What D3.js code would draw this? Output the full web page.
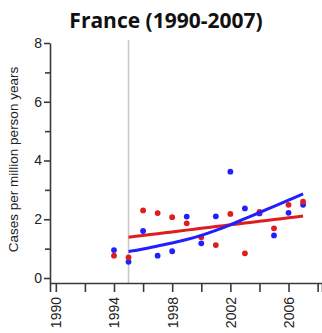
<!DOCTYPE html>
<html>
<head>
<meta charset="utf-8">
<script src="https://cdn.jsdelivr.net/npm/d3@7"></script>
<style>
  html, body { margin: 0; padding: 0; background: #fff; }
  svg { display: block; }
</style>
</head>
<body>
<div id="chart"></div>
<script>
// Observed annual rates (cases per million person years), France
const years = [1994, 1995, 1996, 1997, 1998, 1999, 2000, 2001, 2002, 2003, 2004, 2005, 2006, 2007];
const blueRates = [0.95, 0.55, 1.60, 0.76, 0.91, 2.09, 1.18, 2.10, 3.62, 2.37, 2.20, 1.45, 2.22, 2.49];
const redRates  = [0.76, 0.70, 2.30, 2.21, 2.07, 1.86, 1.39, 1.12, 2.18, 0.84, 2.25, 1.69, 2.49, 2.60];

// Fitted trends from 1995 onward
const trendYears = [1995, 1996, 1997, 1998, 1999, 2000, 2001, 2002, 2003, 2004, 2005, 2006, 2007];
const blueTrend = [0.90, 0.99, 1.09, 1.19, 1.31, 1.45, 1.62, 1.81, 2.02, 2.23, 2.44, 2.65, 2.86];
const redTrend  = [1.39, 1.45, 1.51, 1.57, 1.63, 1.69, 1.75, 1.81, 1.87, 1.93, 1.99, 2.05, 2.11];

// Axis ticks
const xTicks = [1990, 1992, 1994, 1996, 1998, 2000, 2002, 2004, 2006, 2008];
const xLabels = [1990, 1994, 1998, 2002, 2006];
const yTicks = [0, 1, 2, 3, 4, 5, 6, 7, 8];
const yLabels = [0, 2, 4, 6, 8];
const cutoffYear = 1995;

const W = 322, H = 333;
const BLUE = "#1f1fff", RED = "#de1d1d", AXIS = "#3a3a3a";

const svg = d3.select("#chart").append("svg").attr("width", W).attr("height", H);

const x = d3.scaleLinear().domain([1989.6, 2008.3]).range([50, 322]);
const y = d3.scaleLinear().domain([-0.17, 8]).range([283, 43]);

// Title
svg.append("text")
  .attr("x", 166).attr("y", 28)
  .attr("text-anchor", "middle")
  .attr("font-family", "'Open Sans', Lato, sans-serif")
  .attr("font-weight", "bold")
  .attr("font-size", 21)
  .attr("fill", "#111")
  .text("France (1990-2007)");

// Vertical reference line at the start of the trend period
svg.append("line")
  .attr("x1", x(cutoffYear)).attr("x2", x(cutoffYear))
  .attr("y1", 40).attr("y2", y.range()[0])
  .attr("stroke", "#c8c8c8").attr("stroke-width", 1.6);

// Y axis
const yAxis = svg.append("g")
  .attr("transform", `translate(${x.range()[0]},0)`)
  .call(d3.axisLeft(y).tickValues(yTicks).tickSizeOuter(0)
    .tickFormat(d => yLabels.includes(d) ? d : ""));
yAxis.selectAll(".tick line").attr("x2", d => yLabels.includes(d) ? -6 : -5);
yAxis.selectAll(".tick text")
  .attr("x", -8)
  .attr("font-family", "Arial, 'Liberation Sans', sans-serif")
  .attr("font-size", 14).attr("fill", "#222");

// X axis
const xAxis = svg.append("g")
  .attr("transform", `translate(0,${y.range()[0]})`)
  .call(d3.axisBottom(x).tickValues(xTicks).tickSizeOuter(0).tickSize(9)
    .tickFormat(d => xLabels.includes(d) ? d : ""));
xAxis.selectAll(".tick text")
  .attr("transform", "rotate(-90)")
  .attr("text-anchor", "end")
  .attr("x", -14).attr("y", 0).attr("dy", "0.35em")
  .attr("font-family", "Arial, 'Liberation Sans', sans-serif")
  .attr("font-size", 14).attr("fill", "#222");

[yAxis, xAxis].forEach(g => {
  g.select(".domain").attr("stroke", AXIS).attr("stroke-width", 1.6);
  g.selectAll(".tick line").attr("stroke", AXIS).attr("stroke-width", 1.6);
});

// Y axis title
svg.append("text")
  .attr("transform", `translate(18,${(y(0) + y(8)) / 2 - 1}) rotate(-90)`)
  .attr("text-anchor", "middle")
  .attr("font-family", "Arial, 'Liberation Sans', sans-serif")
  .attr("font-size", 13.5)
  .attr("fill", "#222")
  .text("Cases per million person years");

// Observed points
const blueData = years.map((yr, i) => ({ yr, v: blueRates[i] }));
const redData = years.map((yr, i) => ({ yr, v: redRates[i] }));

svg.append("g").selectAll("circle").data(blueData).join("circle")
  .attr("cx", d => x(d.yr)).attr("cy", d => y(d.v)).attr("r", 2.9).attr("fill", BLUE);
svg.append("g").selectAll("circle").data(redData).join("circle")
  .attr("cx", d => x(d.yr)).attr("cy", d => y(d.v)).attr("r", 2.9).attr("fill", RED);

// Trend lines
const line = d3.line().x(d => x(d.yr)).y(d => y(d.v)).curve(d3.curveMonotoneX);
svg.append("path")
  .datum(trendYears.map((yr, i) => ({ yr, v: redTrend[i] })))
  .attr("d", line).attr("fill", "none").attr("stroke", RED).attr("stroke-width", 3);
svg.append("path")
  .datum(trendYears.map((yr, i) => ({ yr, v: blueTrend[i] })))
  .attr("d", line).attr("fill", "none").attr("stroke", BLUE).attr("stroke-width", 3);
</script>
</body>
</html>
